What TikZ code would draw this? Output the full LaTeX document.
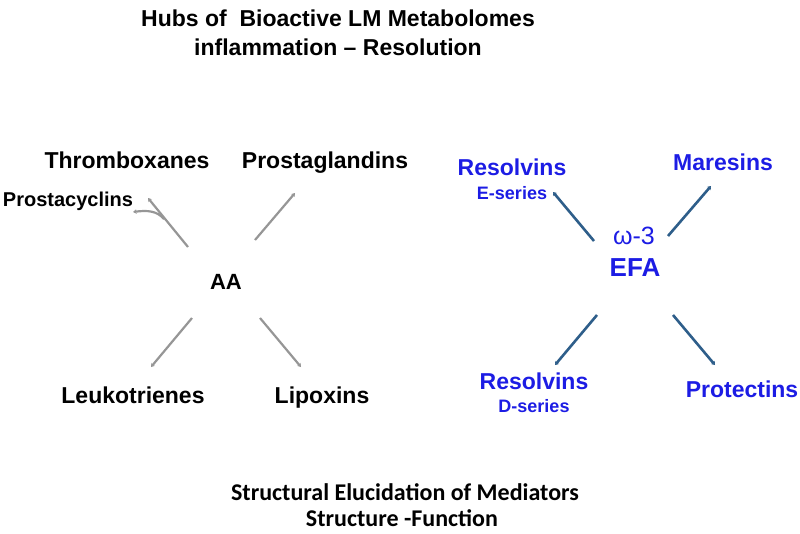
\documentclass[tikz,border=0pt]{standalone}
\usepackage{fontspec}
\setmainfont{Liberation Sans}
\newfontfamily\calib{Carlito}
\usetikzlibrary{arrows.meta}
\definecolor{lmblue}{RGB}{28,28,228}
\definecolor{lmline}{RGB}{46,94,138}
\definecolor{lmgray}{RGB}{150,150,150}
\tikzset{
  lbl/.style={anchor=base, inner sep=0pt, font=\bfseries\fontsize{23}{26}\selectfont},
  bluelbl/.style={lbl, text=lmblue},
  grayarrow/.style={draw=lmgray, line width=2.2pt, -{Stealth[length=3.5pt,width=4.5pt]}},
  bluearrow/.style={draw=lmline, line width=2.6pt, -{Stealth[length=3.5pt,width=5pt]}},
}
\begin{document}
\begin{tikzpicture}[x=1pt,y=-1pt]
\useasboundingbox (0,0) rectangle (800,533);
% titles
\node[lbl] (t1) at (338,26) {Hubs of\ \ Bioactive LM Metabolomes};
\node[lbl] (t2) at (338,55) {inflammation -- Resolution};
% left hub
\node[lbl] (tx) at (127,168) {Thromboxanes};
\node[lbl] (pg) at (325,168) {Prostaglandins};
\node[lbl, font=\bfseries\fontsize{20}{24}\selectfont] (pc) at (68,206) {Prostacyclins};
\node[lbl, font=\bfseries\fontsize{22}{24}\selectfont] (aa) at (226,289) {AA};
\node[lbl] (lt) at (133,403) {Leukotrienes};
\node[lbl] (lx) at (322,403) {Lipoxins};
\coordinate (a1s) at (188,247); \coordinate (a1e) at (148,198);
\coordinate (a1b) at (164,219); \coordinate (a1t) at (133,212);
\coordinate (a2s) at (255,240); \coordinate (a2e) at (295,193);
\coordinate (a3s) at (192,318); \coordinate (a3e) at (151,367);
\coordinate (a4s) at (260,318); \coordinate (a4e) at (301,367);
\draw[grayarrow] (a1s) -- (a1e);
\draw[grayarrow] (a1b) .. controls (157,211) and (148,210) .. (a1t);
\draw[grayarrow] (a2s) -- (a2e);
\draw[grayarrow] (a3s) -- (a3e);
\draw[grayarrow] (a4s) -- (a4e);
% right hub
\node[bluelbl] (re) at (512,175) {Resolvins};
\node[bluelbl, font=\bfseries\fontsize{18}{20}\selectfont] (res) at (512,199) {E-series};
\node[bluelbl] (ma) at (723,170) {Maresins};
\node[lbl, text=lmblue, font=\fontsize{25}{28}\selectfont] (om) at (634,244) {ω-3};
\node[bluelbl, font=\bfseries\fontsize{26}{28}\selectfont] (efa) at (635,276) {EFA};
\node[bluelbl] (rd) at (534,389) {Resolvins};
\node[bluelbl, font=\bfseries\fontsize{18}{20}\selectfont] (rds) at (534,412) {D-series};
\node[bluelbl] (pr) at (742,397) {Protectins};
\coordinate (b1s) at (594,241); \coordinate (b1e) at (553,192);
\coordinate (b2s) at (668,236); \coordinate (b2e) at (711,186);
\coordinate (b3s) at (597,315); \coordinate (b3e) at (555,365);
\coordinate (b4s) at (673,315); \coordinate (b4e) at (715,365);
\draw[bluearrow] (b1s) -- (b1e);
\draw[bluearrow] (b2s) -- (b2e);
\draw[bluearrow] (b3s) -- (b3e);
\draw[bluearrow] (b4s) -- (b4e);
% bottom
\node[lbl, font=\calib\bfseries\fontsize{24}{26}\selectfont] (b1) at (405,500) {Structural Elucidation of Mediators};
\node[lbl, font=\calib\bfseries\fontsize{24}{26}\selectfont] (b2) at (402,526) {Structure -Function};
\end{tikzpicture}
\end{document}
